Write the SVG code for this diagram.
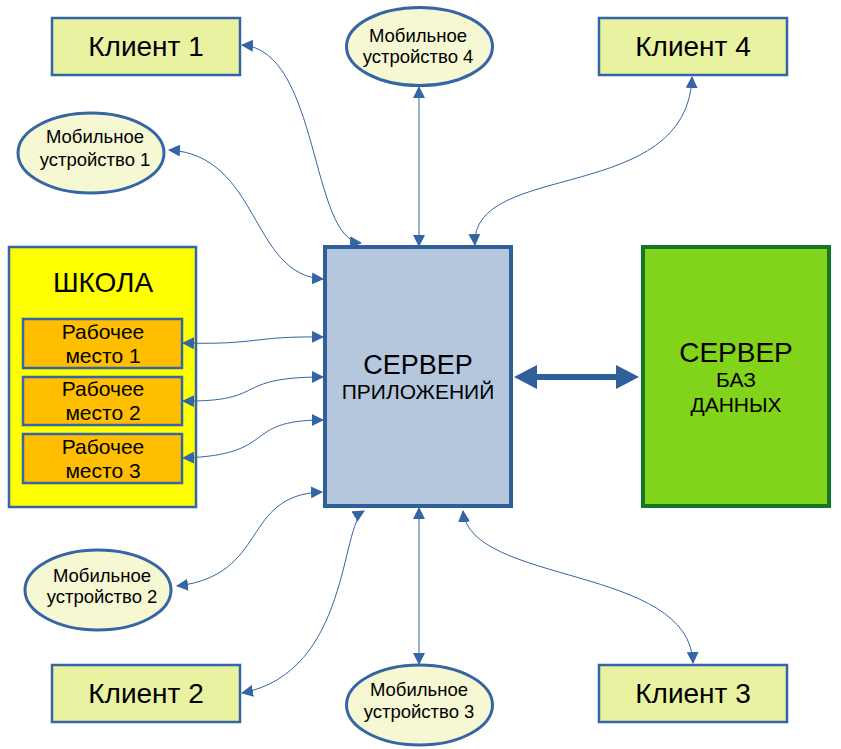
<svg xmlns="http://www.w3.org/2000/svg" width="841" height="749" viewBox="0 0 841 749">
<style>
text{font-family:"Liberation Sans",Arial,sans-serif;fill:#000;text-anchor:middle}
.client{fill:#e8f2a1;stroke:#3465a4;stroke-width:2.5}
.mob{fill:#f5f8d3;stroke:#3465a4;stroke-width:3}
.wp{fill:#ffbf00;stroke:#3465a4;stroke-width:2.5}
.conn{fill:none;stroke:#3465a4;stroke-width:1;marker-start:url(#a);marker-end:url(#a)}
.t27{font-size:28px}.t17{font-size:18.5px}.t20{font-size:21px}
</style>
<defs>
<marker id="a" viewBox="0 0 12 12" refX="11" refY="6" markerWidth="12" markerHeight="12" markerUnits="userSpaceOnUse" orient="auto-start-reverse">
<path d="M0,0 L12,6 L0,12 Z" fill="#3465a4"/>
</marker>
</defs>
<rect width="841" height="749" fill="#fff"/>

<g id="client1"><rect class="client" x="52" y="18" width="188" height="57"/><text class="t27" x="146" y="56">Клиент 1</text></g>
<g id="client4"><rect class="client" x="599" y="18" width="188" height="57"/><text class="t27" x="693" y="56">Клиент 4</text></g>
<g id="client2"><rect class="client" x="52" y="665" width="188" height="57"/><text class="t27" x="146" y="703">Клиент 2</text></g>
<g id="client3"><rect class="client" x="599" y="665" width="188" height="57"/><text class="t27" x="693" y="703">Клиент 3</text></g>

<g id="mobile1"><ellipse class="mob" cx="91" cy="153" rx="73" ry="40"/><text class="t17" x="95" y="143">Мобильное</text><text class="t17" x="95" y="166">устройство 1</text></g>
<g id="mobile4"><ellipse class="mob" cx="419.5" cy="46.5" rx="73" ry="39"/><text class="t17" x="418" y="42">Мобильное</text><text class="t17" x="418" y="63">устройство 4</text></g>
<g id="mobile2"><ellipse class="mob" cx="98" cy="590" rx="73" ry="40"/><text class="t17" x="102" y="582">Мобильное</text><text class="t17" x="102" y="603">устройство 2</text></g>
<g id="mobile3"><ellipse class="mob" cx="419.5" cy="705" rx="73" ry="40"/><text class="t17" x="419" y="696">Мобильное</text><text class="t17" x="419" y="718">устройство 3</text></g>

<g id="school">
<rect x="9" y="247" width="187" height="260" fill="#ffff00" stroke="#3465a4" stroke-width="2.5"/>
<text x="103" y="292" font-size="28">ШКОЛА</text>
</g>
<g id="wp1"><rect class="wp" x="23" y="319" width="159" height="49"/><text class="t20" x="103" y="339">Рабочее</text><text class="t20" x="103" y="363">место 1</text></g>
<g id="wp2"><rect class="wp" x="23" y="377" width="159" height="48"/><text class="t20" x="103" y="396">Рабочее</text><text class="t20" x="103" y="420">место 2</text></g>
<g id="wp3"><rect class="wp" x="23" y="434" width="159" height="49"/><text class="t20" x="103" y="454">Рабочее</text><text class="t20" x="103" y="478">место 3</text></g>

<g id="appserver">
<rect x="325" y="247" width="186" height="259" fill="#b4c7dc" stroke="#2f6099" stroke-width="4"/>
<text x="418" y="374" font-size="27">СЕРВЕР</text>
<text x="418" y="399" font-size="21">ПРИЛОЖЕНИЙ</text>
</g>
<g id="dbserver">
<rect x="643" y="247" width="186" height="259" fill="#81d41a" stroke="#127622" stroke-width="4"/>
<text x="736" y="362" font-size="28">СЕРВЕР</text>
<text x="736" y="387" font-size="21">БАЗ</text>
<text x="736" y="412" font-size="21">ДАННЫХ</text>
</g>

<g id="connectors">
<path class="conn" d="M242 45 C320 50 310 240 361 243"/>
<path class="conn" d="M169 150 C260 155 250 275 323 279"/>
<path class="conn" d="M419 87 L419 246"/>
<path class="conn" d="M692 77 C688 205 470 160 475 245"/>
<path class="conn" d="M183 343 C260 345 250 336 323 337"/>
<path class="conn" d="M183 401 C270 402 230 377 323 377"/>
<path class="conn" d="M183 458 C280 455 240 420 323 420"/>
<path class="conn" d="M177 586 C270 575 240 495 322 492"/>
<path class="conn" d="M242 693 C350 672 340 525 364 511"/>
<path class="conn" d="M419 508 L419 664"/>
<path class="conn" d="M463 511 C470 585 690 565 693 663"/>
<path d="M537 377 L616 377" stroke="#2f6099" stroke-width="6" fill="none"/>
<path d="M514 377 L537 365 L537 389 Z M639 377 L616 365 L616 389 Z" fill="#2f6099"/>
</g>
</svg>
